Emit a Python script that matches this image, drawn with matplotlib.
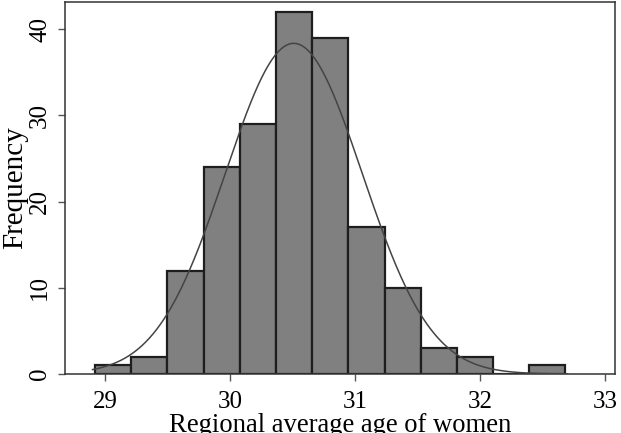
import numpy as np
import matplotlib
matplotlib.use("Agg")
import matplotlib.pyplot as plt

# Data
bin_start = 28.92
bin_width = 0.2895
counts = [1, 2, 12, 24, 29, 42, 39, 17, 10, 3, 2, 0, 1]
fit_mean = 30.51
fit_sd = 0.548
x_ticks = [29, 30, 31, 32, 33]
y_ticks = [0, 10, 20, 30, 40]

plt.rcParams['font.family'] = ['Liberation Serif', 'DejaVu Serif']

fig = plt.figure(figsize=(6.21, 4.33), dpi=100)
ax = fig.add_axes([65/621, 1-374/433, 550/621, 372/433])

edges = bin_start + bin_width*np.arange(len(counts)+1)
ax.bar(edges[:-1], counts, width=bin_width, align='edge',
       color='#808080', edgecolor='#1e1e1e', linewidth=1.6, zorder=2)

n = sum(counts)
xs = np.linspace(28.9, 32.7, 400)
ys = n*bin_width/(fit_sd*np.sqrt(2*np.pi))*np.exp(-0.5*((xs-fit_mean)/fit_sd)**2)
ax.plot(xs, ys, color='#444444', linewidth=1.1, zorder=3)

ax.set_xlim(28.68, 33.08)
ax.set_ylim(0, 43.15)
ax.set_xticks(x_ticks)
ax.set_yticks(y_ticks)
ax.set_yticklabels([str(v) for v in y_ticks], rotation=90, va='center')
ax.tick_params(axis='both', labelsize=18, length=5, width=1, color='#555555', direction='out')
ax.tick_params(axis='x', pad=7)
ax.tick_params(axis='y', pad=5)
for s in ax.spines.values():
    s.set_color('#333333')
    s.set_linewidth(1.1)

ax.set_xlabel('Regional average age of women', fontsize=19.2, labelpad=0)
ax.set_ylabel('Frequency', fontsize=21, labelpad=1)

fig.savefig('out.png', dpi=100)
